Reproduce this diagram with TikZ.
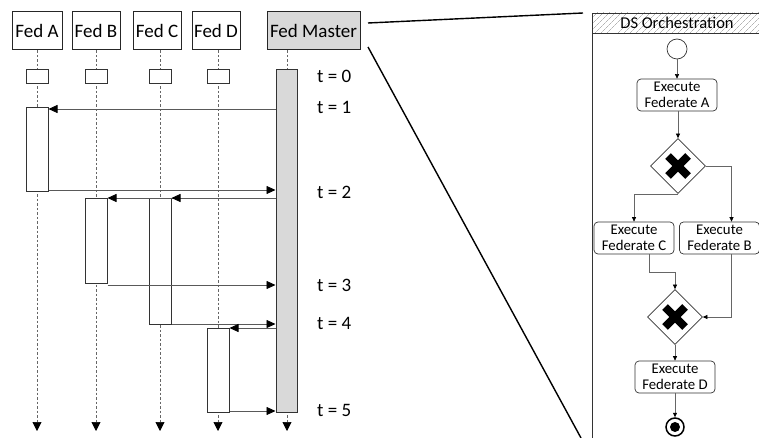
\documentclass[tikz,border=0pt]{standalone}
\usepackage{fontspec}
\setmainfont{Carlito}
\usetikzlibrary{arrows.meta,shapes.geometric,patterns.meta}
\begin{document}
\begin{tikzpicture}[x=1pt,y=-1pt,
  seqfont/.style={font=\fontsize{19}{21}\selectfont},
  flowfont/.style={font=\fontsize{14.8}{16.5}\selectfont},
  hdrbox/.style={draw=black!85,line width=1pt,fill=white,inner sep=0pt,seqfont,minimum height=38pt},
  smallbox/.style={draw=black!80,line width=1pt,fill=white,inner sep=0pt,minimum width=22pt,minimum height=14pt},
  actbox/.style={draw=black!80,line width=1pt,fill=white,inner sep=0pt,minimum width=22pt},
  life/.style={draw=black!60,line width=0.7pt,dash pattern=on 2.5pt off 2pt,-{Triangle[length=9pt,width=9pt,black]}},
  msg/.style={draw=black!65,line width=0.8pt,-{Triangle[length=9pt,width=8pt,black]}},
  task/.style={draw=black!80,line width=0.7pt,rounded corners=4pt,fill=white,inner sep=0pt,minimum width=80pt,minimum height=32pt,align=center,flowfont},
  gw/.style={diamond,draw=black!80,line width=0.7pt,fill=white,inner sep=0pt,minimum width=55pt,minimum height=55pt},
  flow/.style={draw=black!60,line width=0.6pt,-{Triangle[length=4.5pt,width=4pt,black]}},
  zoomline/.style={draw=black,line width=1.4pt}
]
\useasboundingbox (0,0) rectangle (759,438);
\fill[white] (0,0) rectangle (759,438);

% ---------- sequence diagram ----------
\node[hdrbox,minimum width=50pt] (FA) at (37,31) {Fed A};
\node[hdrbox,minimum width=48pt] (FB) at (96,31) {Fed B};
\node[hdrbox,minimum width=48pt] (FC) at (157,31) {Fed C};
\node[hdrbox,minimum width=48pt] (FD) at (216,31) {Fed D};
\node[hdrbox,minimum width=93pt,fill=black!15] (FM) at (313.5,31) {Fed Master};

\coordinate (LAe) at (37,431);
\coordinate (LBe) at (96,431);
\coordinate (LCe) at (160,431);
\coordinate (LDe) at (218,431);
\coordinate (LMe) at (287,431);

\draw[life] (FA.south -| LAe) -- (LAe);
\draw[life] (FB.south -| LBe) -- (LBe);
\draw[life] (FC.south -| LCe) -- (LCe);
\draw[life] (FD.south -| LDe) -- (LDe);
\draw[life] (FM.south -| LMe) -- (LMe);

\node[smallbox] (sA) at (37,77) {};
\node[smallbox] (sB) at (96,77) {};
\node[smallbox] (sC) at (160,77) {};
\node[smallbox] (sD) at (218,77) {};

\node[actbox,minimum height=84pt] (aA) at (37,150) {};
\node[actbox,minimum height=84pt] (aB) at (96,241) {};
\node[actbox,minimum height=125pt] (aC) at (160,261.5) {};
\node[actbox,minimum height=84pt] (aD) at (218,370) {};
\node[actbox,minimum width=21pt,minimum height=342pt,fill=black!15] (bar) at (286.5,241) {};

\coordinate (y1) at (0,109);
\coordinate (y2) at (0,190);
\coordinate (y2b) at (0,198);
\coordinate (y3) at (0,285);
\coordinate (y4) at (0,324);
\coordinate (y4b) at (0,328);
\coordinate (y5) at (0,411);

\draw[msg] (bar.west |- y1) -- (aA.east |- y1);
\draw[msg] (aA.east |- y2) -- (bar.west |- y2);
\draw[msg] (bar.west |- y2b) -- (aB.east |- y2b);
\draw[msg] (bar.west |- y2b) -- (aC.east |- y2b);
\draw[msg] (aB.east |- y3) -- (bar.west |- y3);
\draw[msg] (aC.east |- y4) -- (bar.west |- y4);
\draw[msg] (bar.west |- y4b) -- (aD.east |- y4b);
\draw[msg] (aD.east |- y5) -- (bar.west |- y5);

\node[seqfont,anchor=west,inner sep=0pt] (T0) at (317,76) {t = 0};
\node[seqfont,anchor=west,inner sep=0pt] (T1) at (317,107) {t = 1};
\node[seqfont,anchor=west,inner sep=0pt] (T2) at (317,192) {t = 2};
\node[seqfont,anchor=west,inner sep=0pt] (T3) at (317,285) {t = 3};
\node[seqfont,anchor=west,inner sep=0pt] (T4) at (317,323) {t = 4};
\node[seqfont,anchor=west,inner sep=0pt] (T5) at (317,410) {t = 5};

% ---------- zoom lines ----------
\coordinate (z1a) at (368,23);
\coordinate (z1b) at (583,13);
\coordinate (z2a) at (368,47);
\coordinate (z2b) at (581,438);
\draw[zoomline] (z1a) -- (z1b);
\draw[zoomline] (z2a) -- (z2b);

% ---------- orchestration panel ----------
\draw[draw=black!80,line width=0.8pt] (592,13) rectangle (770,445);
\draw[draw=black!80,line width=0.8pt,pattern={Lines[angle=45,distance=4pt,line width=0.4pt]},pattern color=black!45] (592,13) rectangle (770,33);
\node[font=\fontsize{16.5}{18}\selectfont] (hdr) at (677,23) {DS Orchestration};

\node[circle,draw=black!80,line width=0.7pt,minimum size=20pt,inner sep=0pt] (st) at (677,49) {};
\node[task] (EA) at (677,95) {Execute\\Federate A};
\node[gw] (X1) at (678,166) {};
\node[task] (EC) at (634,238) {Execute\\Federate C};
\node[task] (EB) at (719.5,238) {Execute\\Federate B};
\node[gw] (X2) at (675,317) {};
\node[task] (ED) at (675,377) {Execute\\Federate D};
\node[circle,draw=black,line width=1.5pt,minimum size=18pt,inner sep=0pt] (en) at (675,427) {};
\node[circle,fill=black,minimum size=10pt,inner sep=0pt] (enc) at (en) {};

\foreach \g in {X1,X2}{
  \draw[line width=8pt,black] ([shift={(-10pt,-10pt)}]\g.center) -- ([shift={(10pt,10pt)}]\g.center);
  \draw[line width=8pt,black] ([shift={(-10pt,10pt)}]\g.center) -- ([shift={(10pt,-10pt)}]\g.center);
}

\draw[flow] (st.south) -- (EA.north);
\draw[flow] (EA.south -| X1.north) -- (X1.north);
\draw[flow] (X1.south) -| (EC.north);
\draw[flow] (X1.east) -| ([xshift=12pt]EB.north);
\draw[flow] ([xshift=15pt]EC.south) -- ++(0,18) -| (X2.north);
\draw[flow] ([xshift=12pt]EB.south) |- (X2.east);
\draw[flow] (X2.south) -- (ED.north);
\draw[flow] (ED.south) -- (en.north);
\end{tikzpicture}
\end{document}
